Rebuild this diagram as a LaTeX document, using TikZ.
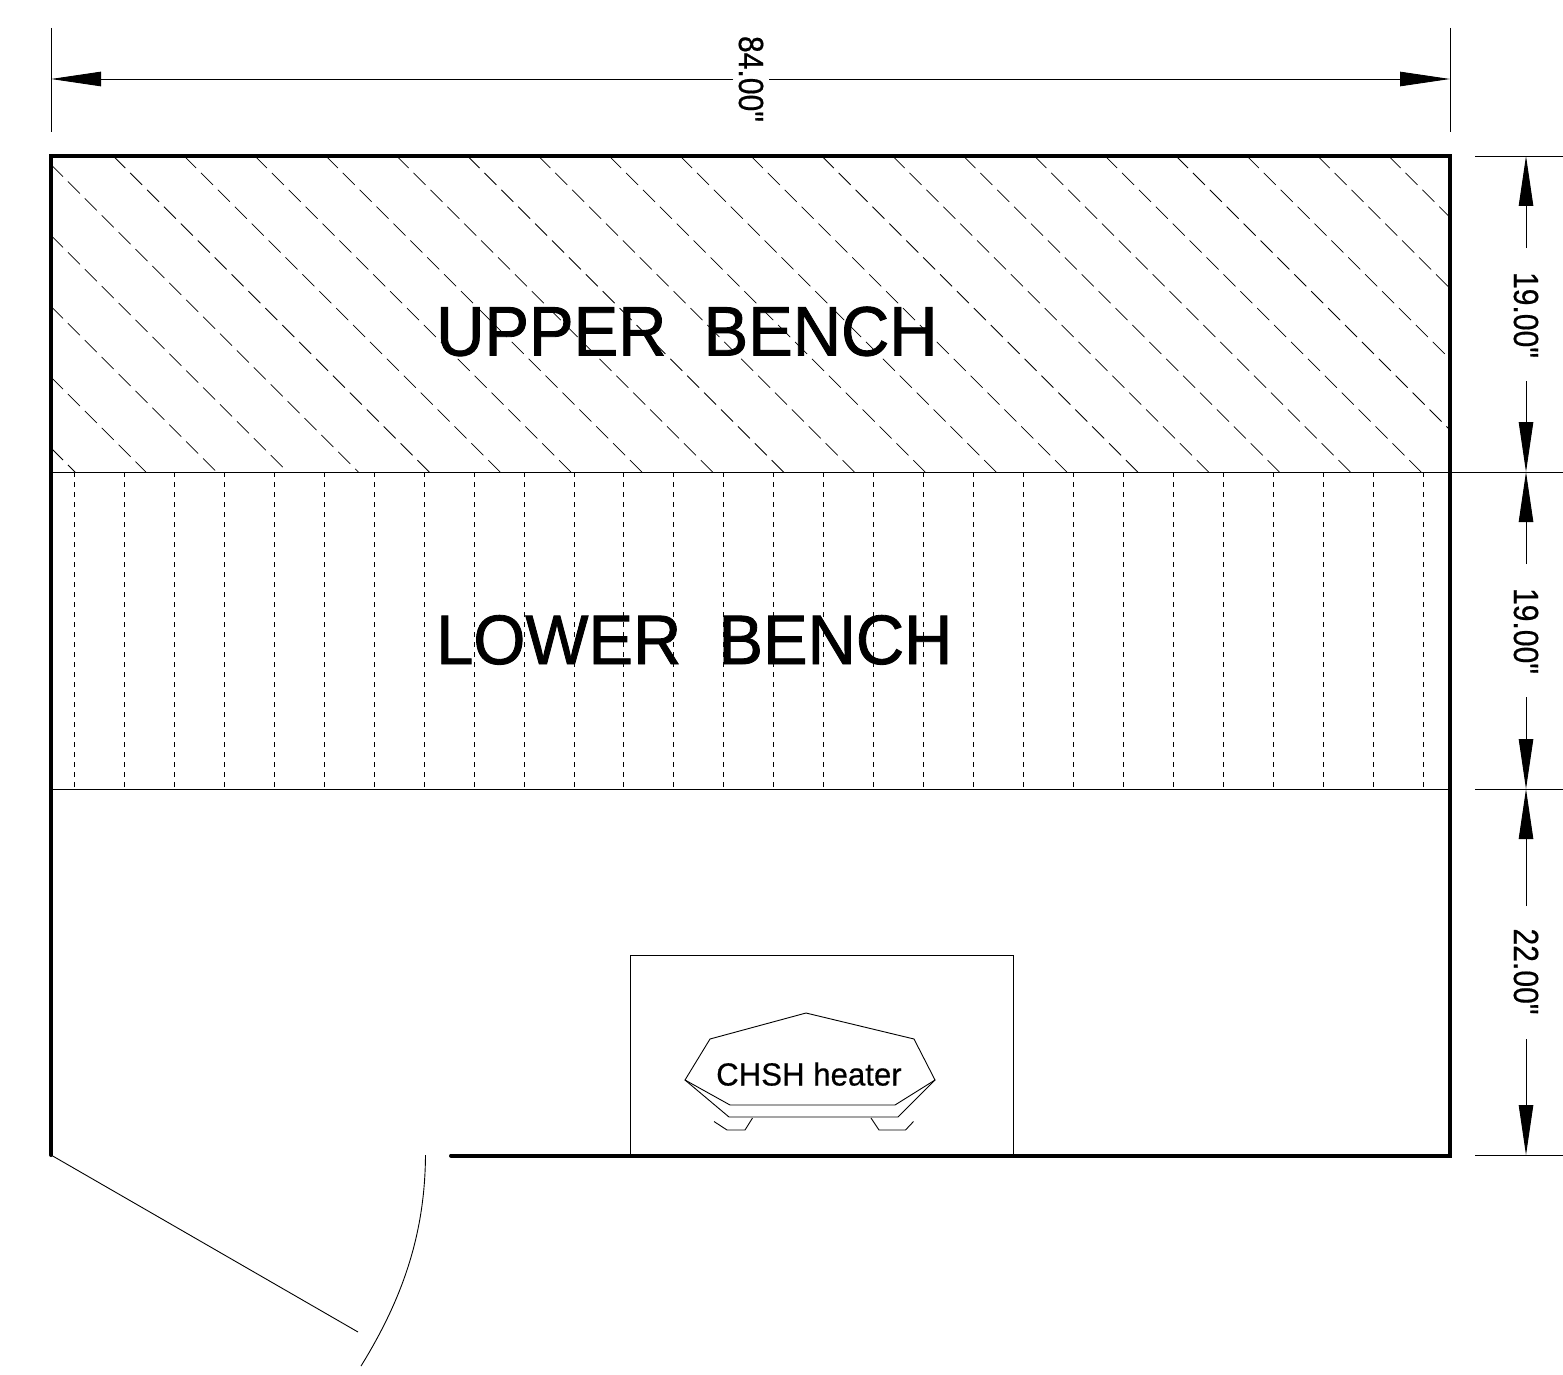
\documentclass[tikz,border=0pt]{standalone}
\usepackage{fontspec}
\setmainfont{Liberation Sans}
\newfontfamily\benchfont[FakeStretch=0.955,FakeBold=1.2]{Liberation Sans}
\newfontfamily\dimfont[FakeStretch=0.86,FakeBold=0.5]{Liberation Sans}
\newfontfamily\heaterfont[FakeStretch=0.975,FakeBold=0.4]{Liberation Sans}
\usetikzlibrary{arrows.meta}
\tikzset{
  wall/.style={line width=4pt,line cap=round,line join=miter},
  thin line/.style={line width=0.9pt},
  hatchd/.style={line width=0.75pt,dash pattern=on 17pt off 6.9pt},
  hatchv/.style={line width=0.75pt,dash pattern=on 4.5pt off 5.5pt},
  dimline/.style={line width=0.9pt,-{Triangle[length=50pt,width=14.5pt]}},
  benchlabel/.style={inner sep=0,font=\benchfont\fontsize{70}{70}\selectfont,anchor=base west},
  dimlabel/.style={inner sep=0,font=\dimfont\fontsize{35}{35}\selectfont,rotate=-90},
}
\begin{document}
\begin{tikzpicture}[x=1pt,y=-1pt]
\useasboundingbox[fill=white] (0,0) rectangle (1563,1375);
% hatching
\begin{scope}
\clip (51,156) rectangle (1450,472);
\foreach \k in {0,...,23}{
  \pgfmathsetmacro{\c}{397-70.85*\k}
  \pgfmathsetmacro{\xs}{max(51,156-\c)}
  \pgfmathsetmacro{\xe}{min(1450,472-\c)}
  \draw[hatchd] (\xs,\xs+\c) -- (\xe,\xe+\c);
}
\end{scope}
\foreach \k in {0,...,27}{
  \pgfmathsetmacro{\x}{74.3+49.96*\k}
  \draw[hatchv] (\x,472) -- (\x,789);
}
% coordinates
\coordinate (tl) at (51,156);
\coordinate (tr) at (1450,156);
\coordinate (br) at (1450,1155.5);
\coordinate (bl) at (51,1155);
\coordinate (jamb) at (451,1155.5);
\coordinate (ml) at (51,472);
\coordinate (mr) at (1563,472);
\coordinate (ll) at (51,789);
\coordinate (lr) at (1450,789);
% walls
\draw[wall] (jamb) -- (br) -- (tr) -- (tl) -- (bl);
\draw[thin line] (ml) -- (mr);
\draw[thin line] (ll) -- (lr);
% door
\coordinate (doorend) at (358,1332);
\draw[thin line] (bl) -- (doorend);
\coordinate (arcs) at (425.5,1155);
\coordinate (arce) at (361,1366);
\draw[thin line] (arcs) .. controls (425,1230) and (405,1295) .. (arce);
% heater
\draw[thin line] (630.5,1155) -- (630.5,955.5) -- (1013.5,955.5) -- (1013.5,1155);
\draw[thin line] (685,1080) -- (710,1039) -- (806,1013) -- (914,1039) -- (935,1080) -- (895,1105) -- (730,1105) -- cycle;
\draw[thin line] (685,1080) -- (729,1117) -- (898,1117) -- (935,1080);
\draw[thin line] (714,1121.5) -- (727,1130) -- (745,1130) -- (752.5,1118);
\draw[thin line] (871,1118) -- (879,1130) -- (905.5,1130) -- (913.5,1121.5);
\node[inner sep=0,anchor=base west,font=\heaterfont\fontsize{32}{32}\selectfont] (heater) at (716,1085.5) {CHSH heater};
% bench labels
\node[benchlabel] (upper) at (436,355.5) {UPPER\ \ BENCH};
\node[benchlabel] (lower) at (436,664) {LOWER\ \ BENCH};
% top dimension
\coordinate (e1a) at (51,28); \coordinate (e1b) at (51,132);
\coordinate (e2a) at (1450,28); \coordinate (e2b) at (1450,132);
\draw[thin line] (e1a) -- (e1b);
\draw[thin line] (e2a) -- (e2b);
\node[dimlabel] (d84) at (751,79) {84.00"};
\coordinate (d84l) at (51,79); \coordinate (d84r) at (1450,79);
\draw[dimline] (733,79) -- (d84l);
\draw[dimline] (769,79) -- (d84r);
% right dimensions
\draw[thin line] (1475,156) -- (1563,156);
\draw[thin line] (1475,789) -- (1563,789);
\draw[thin line] (1475,1155) -- (1563,1155);
\node[dimlabel] (d19a) at (1526,315) {19.00"};
\node[dimlabel] (d19b) at (1526,631) {19.00"};
\node[dimlabel] (d22) at (1526,971.5) {22.00"};
\draw[dimline] (1526,248) -- (1526,156);
\draw[dimline] (1526,381) -- (1526,472);
\draw[dimline] (1526,564) -- (1526,472);
\draw[dimline] (1526,697) -- (1526,789);
\draw[dimline] (1526,906) -- (1526,789);
\draw[dimline] (1526,1039) -- (1526,1155);
\end{tikzpicture}
\end{document}
